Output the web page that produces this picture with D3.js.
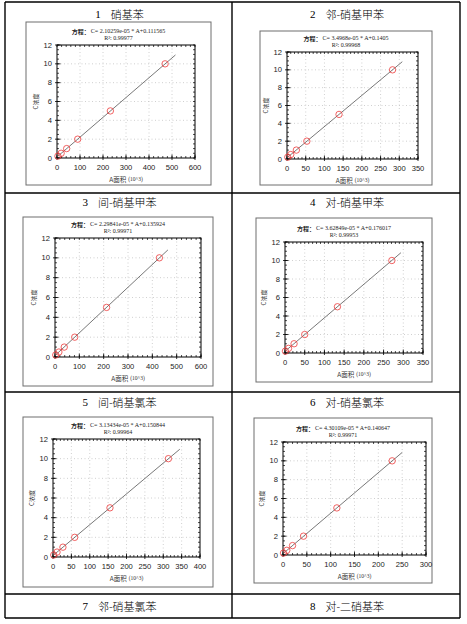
<!DOCTYPE html>
<html>
<head>
<meta charset="utf-8">
<script src="https://cdn.jsdelivr.net/npm/d3@7"></script>
<style>
  body { margin: 0; background: #fff; }
  svg { display: block; }
</style>
</head>
<body>
<svg id="page"></svg>
<script>
// compound titles (table header cells)
var titleNums = ["1", "2", "3", "4", "5", "6", "7", "8"];
var titleNames = ["硝基苯", "邻-硝基甲苯", "间-硝基甲苯", "对-硝基甲苯", "间-硝基氯苯", "对-硝基氯苯", "邻-硝基氯苯", "对-二硝基苯"];

// regression text printed above each plot
var equations = [
  "C= 2.10259e-05 * A+0.111565",
  "C= 3.4968e-05 * A+0.1405",
  "C= 2.29841e-05 * A+0.135924",
  "C= 3.62849e-05 * A+0.176017",
  "C= 3.13434e-05 * A+0.150844",
  "C= 4.30109e-05 * A+0.140647"
];
var r2Values = ["0.99977", "0.99968", "0.99971", "0.99953", "0.99964", "0.99971"];

// standard concentrations (C) and peak areas (10^3)
var concentrations = [0.2, 0.5, 1, 2, 5, 10];
var areas1 = [4, 18, 42, 90, 232, 470];
var areas2 = [2, 10, 25, 53, 139, 282];
var areas3 = [3, 16, 38, 81, 212, 429];
var areas4 = [1, 9, 23, 50, 133, 271];
var areas5 = [2, 11, 27, 59, 155, 314];
var areas6 = [1, 8, 20, 43, 113, 229];
var areaSeries = [areas1, areas2, areas3, areas4, areas5, areas6];

// fitted line end points (A, C)
var fitStartA = [0, 0, 0, 0, 0, 0];
var fitStartC = [0.11, 0.14, 0.14, 0.18, 0.15, 0.14];
var fitEndA = [515, 308, 464, 294, 345, 250];
var fitEndC = [10.94, 10.91, 10.80, 10.84, 10.96, 10.89];

// axis ranges and ticks
var xMaxes = [600, 350, 600, 350, 400, 300];
var xSteps = [100, 50, 100, 50, 50, 50];
var yTicks = [0, 2, 4, 6, 8, 10, 12];

// ---- layout (pixel boxes of the pasted chart images) ----
var W = 467, H = 624;
var frames = [
  { box: [26, 22, 211, 185],  plot: [57, 45, 195, 158] },
  { box: [260, 31, 432, 185], plot: [287, 52, 418, 159] },
  { box: [23, 217, 213, 386], plot: [55, 238, 201, 357] },
  { box: [256, 218, 432, 382], plot: [285, 242, 423, 353] },
  { box: [23, 417, 213, 587], plot: [53, 439, 200, 557] },
  { box: [254, 418, 432, 583], plot: [283, 442, 426, 555] }
];
var rowLines = [2, 193, 392, 594, 618];
var colLines = [5, 232, 460];
var titleY = [14, 202, 402, 606];

var svg = d3.select("#page").attr("width", W).attr("height", H);
svg.append("rect").attr("width", W).attr("height", H).attr("fill", "#fff");

// table grid
rowLines.forEach(function (y) {
  svg.append("line").attr("x1", colLines[0]).attr("x2", colLines[2])
    .attr("y1", y).attr("y2", y).attr("stroke", "#000").attr("stroke-width", 1.4);
});
colLines.forEach(function (x) {
  svg.append("line").attr("x1", x).attr("x2", x)
    .attr("y1", rowLines[0]).attr("y2", rowLines[4]).attr("stroke", "#000").attr("stroke-width", 1.4);
});

// titles
titleNums.forEach(function (n, i) {
  var col = i % 2, row = Math.floor(i / 2);
  var cx = (colLines[col] + colLines[col + 1]) / 2 + 1;
  var t = svg.append("text")
    .attr("x", cx).attr("y", titleY[row])
    .attr("text-anchor", "middle").attr("dominant-baseline", "central")
    .attr("font-size", 11).attr("fill", "#000");
  t.append("tspan").attr("font-family", "Liberation Serif").text(n);
  t.append("tspan").attr("font-family", "'Noto Sans CJK SC'").attr("font-weight", 300)
    .attr("dx", 10).text(titleNames[i]);
});

// charts
frames.forEach(function (f, i) {
  var b = f.box, p = f.plot;
  var g = svg.append("g");

  g.append("rect").attr("x", b[0]).attr("y", b[1])
    .attr("width", b[2] - b[0]).attr("height", b[3] - b[1])
    .attr("fill", "#fff").attr("stroke", "#6e6e6e").attr("stroke-width", 1);

  var x = d3.scaleLinear().domain([0, xMaxes[i]]).range([p[0], p[2]]);
  var y = d3.scaleLinear().domain([0, 12]).range([p[3], p[1]]);
  var xMajor = d3.range(0, xMaxes[i] + 1e-9, xSteps[i]);
  var xMinor = d3.range(0, xMaxes[i] + 1e-9, xSteps[i] / 5);
  var yMinor = d3.range(0, 12.001, 0.5);

  // dotted grid
  g.selectAll(".gx").data(xMajor.slice(1, -1)).enter().append("line")
    .attr("x1", x).attr("x2", x).attr("y1", p[1]).attr("y2", p[3])
    .attr("stroke", "#c4c4c4").attr("stroke-width", 0.8).attr("stroke-dasharray", "1,2.5");
  g.selectAll(".gy").data(yTicks.slice(1, -1)).enter().append("line")
    .attr("y1", y).attr("y2", y).attr("x1", p[0]).attr("x2", p[2])
    .attr("stroke", "#c4c4c4").attr("stroke-width", 0.8).attr("stroke-dasharray", "1,2.5");

  // plot border
  g.append("rect").attr("x", p[0]).attr("y", p[1])
    .attr("width", p[2] - p[0]).attr("height", p[3] - p[1])
    .attr("fill", "none").attr("stroke", "#000").attr("stroke-width", 1);

  // minor ticks on all sides (inside)
  g.selectAll(".mxb").data(xMinor).enter().append("line")
    .attr("x1", x).attr("x2", x).attr("y1", p[3]).attr("y2", p[3] - 2)
    .attr("stroke", "#000").attr("stroke-width", 0.7);
  g.selectAll(".mxt").data(xMinor).enter().append("line")
    .attr("x1", x).attr("x2", x).attr("y1", p[1]).attr("y2", p[1] + 2)
    .attr("stroke", "#000").attr("stroke-width", 0.7);
  g.selectAll(".myl").data(yMinor).enter().append("line")
    .attr("y1", y).attr("y2", y).attr("x1", p[0]).attr("x2", p[0] + 2)
    .attr("stroke", "#000").attr("stroke-width", 0.7);
  g.selectAll(".myr").data(yMinor).enter().append("line")
    .attr("y1", y).attr("y2", y).attr("x1", p[2]).attr("x2", p[2] - 2)
    .attr("stroke", "#000").attr("stroke-width", 0.7);
  // major ticks crossing the axes
  g.selectAll(".Mx").data(xMajor).enter().append("line")
    .attr("x1", x).attr("x2", x).attr("y1", p[3] + 2).attr("y2", p[3] - 3.5)
    .attr("stroke", "#000").attr("stroke-width", 0.8);
  g.selectAll(".My").data(yTicks).enter().append("line")
    .attr("y1", y).attr("y2", y).attr("x1", p[0] - 2).attr("x2", p[0] + 3.5)
    .attr("stroke", "#000").attr("stroke-width", 0.8);

  // tick labels
  g.selectAll(".lx").data(xMajor).enter().append("text")
    .attr("x", x).attr("y", p[3] + 9.5)
    .attr("text-anchor", "middle").attr("dominant-baseline", "central")
    .attr("font-family", "Liberation Sans, Arial").attr("font-size", 7.6).attr("fill", "#222")
    .text(function (d) { return d; });
  g.selectAll(".ly").data(yTicks).enter().append("text")
    .attr("x", p[0] - 5).attr("y", y)
    .attr("text-anchor", "end").attr("dominant-baseline", "central")
    .attr("font-family", "Liberation Sans, Arial").attr("font-size", 7.6).attr("fill", "#222")
    .text(function (d) { return d; });

  // axis titles
  var xt = g.append("text").attr("x", (p[0] + p[2]) / 2).attr("y", p[3] + 20.5)
    .attr("text-anchor", "middle").attr("dominant-baseline", "central")
    .attr("font-size", 6.5).attr("fill", "#333");
  xt.append("tspan").attr("font-family", "'Noto Sans CJK SC'").text("A面积");
  xt.append("tspan").attr("font-family", "Liberation Serif").attr("font-size", 5.5).attr("dx", 2).text("(10^3)");
  g.append("text")
    .attr("transform", "translate(" + (p[0] - 22) + "," + ((p[1] + p[3]) / 2) + ") rotate(-90)")
    .attr("text-anchor", "middle").attr("dominant-baseline", "central")
    .attr("font-family", "'Noto Sans CJK SC'").attr("font-size", 6).attr("fill", "#333")
    .text("C浓度");

  // equation & R²
  var cx = (b[0] + b[2]) / 2;
  var eq = g.append("text").attr("x", cx).attr("y", p[1] - 14)
    .attr("text-anchor", "middle").attr("dominant-baseline", "central")
    .attr("font-size", 6).attr("fill", "#222");
  eq.append("tspan").attr("font-family", "'Noto Sans CJK SC'").attr("font-weight", "bold").text("方程：");
  eq.append("tspan").attr("font-family", "Liberation Serif").attr("dx", 1).text(equations[i]);
  g.append("text").attr("x", cx).attr("y", p[1] - 7.5)
    .attr("text-anchor", "middle").attr("dominant-baseline", "central")
    .attr("font-family", "Liberation Serif").attr("font-size", 6).attr("fill", "#222")
    .text("R²: " + r2Values[i]);

  // fitted line
  g.append("line")
    .attr("x1", x(fitStartA[i])).attr("y1", y(fitStartC[i]))
    .attr("x2", x(fitEndA[i])).attr("y2", y(fitEndC[i]))
    .attr("stroke", "#555").attr("stroke-width", 0.8);

  // standard points
  var pts = areaSeries[i].map(function (a, k) { return [a, concentrations[k]]; });
  g.selectAll(".pt").data(pts).enter().append("circle")
    .attr("cx", function (d) { return x(d[0]); })
    .attr("cy", function (d) { return y(d[1]); })
    .attr("r", 3.2)
    .attr("fill", "none").attr("stroke", "#ee3b3b").attr("stroke-width", 0.8);
});
</script>
</body>
</html>
